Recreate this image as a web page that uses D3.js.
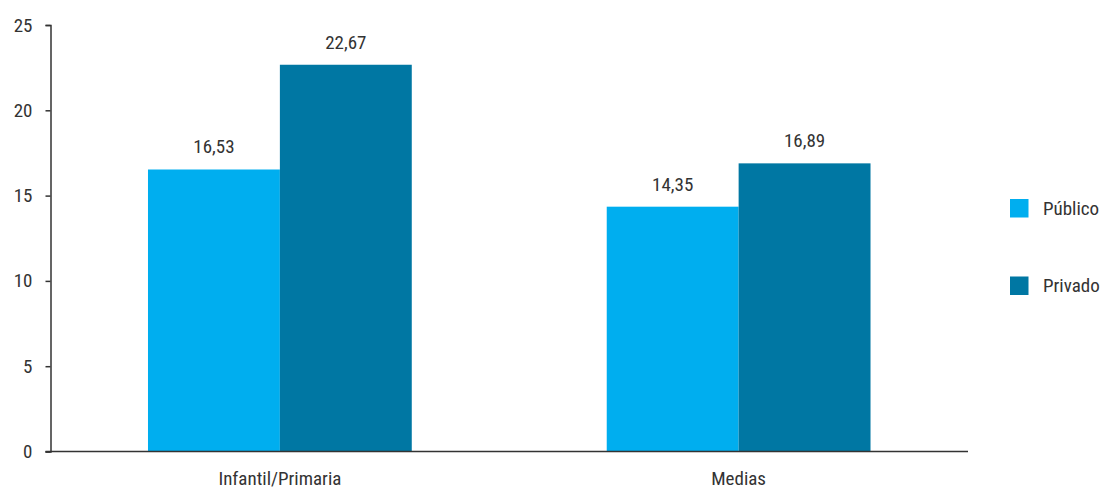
<!DOCTYPE html>
<html>
<head>
<meta charset="utf-8">
<script src="https://cdn.jsdelivr.net/npm/d3@7"></script>
<style>
  html, body { margin: 0; padding: 0; background: #fff; }
  svg { display: block; }
  text { font-family: "Liberation Sans Narrow", "Arial Narrow", "Roboto Condensed", "Liberation Sans", sans-serif; fill: #333; }
</style>
</head>
<body>
<svg id="chart" width="1104" height="489"></svg>
<script>
const categories = ["Infantil/Primaria", "Medias"];
const seriesNames = ["Público", "Privado"];
const publico = [16.53, 14.35];
const privado = [22.67, 16.89];
const publicoLabels = ["16,53", "14,35"];
const privadoLabels = ["22,67", "16,89"];
const yTicks = [0, 5, 10, 15, 20, 25];
const colors = ["#00AEEF", "#0077A3"];

const seriesValues = { "Público": publico, "Privado": privado };
const valueLabels = { "Público": publicoLabels, "Privado": privadoLabels };

const svg = d3.select("#chart");
const mLeft = 50.5, mRight = 968, mTop = 25, mBottom = 451.5;

const x = d3.scaleBand().domain(categories).range([mLeft, mRight])
  .paddingInner(0.425).paddingOuter(0.2125);
const xs = d3.scaleBand().domain(seriesNames).range([0, x.bandwidth()]).padding(0);
const y = d3.scaleLinear().domain([0, 25]).range([mBottom, mTop]);
const color = d3.scaleOrdinal().domain(seriesNames).range(colors);

const rows = (c, i) => seriesNames.map(s => ({ s, v: seriesValues[s][i], label: valueLabels[s][i] }));

// bars
const groups = svg.append("g").selectAll("g").data(categories).join("g")
  .attr("transform", d => `translate(${x(d)},0)`);
groups.selectAll("rect").data(rows).join("rect")
  .attr("x", d => xs(d.s))
  .attr("width", xs.bandwidth())
  .attr("y", d => y(d.v))
  .attr("height", d => mBottom - y(d.v))
  .attr("fill", d => color(d.s));
groups.selectAll("text.val").data(rows).join("text")
  .attr("class", "val")
  .attr("x", d => xs(d.s) + xs.bandwidth() / 2)
  .attr("y", d => y(d.v) - 16)
  .attr("text-anchor", "middle")
  .style("font-size", "19px")
  .text(d => d.label);

// y axis
const yAxis = svg.append("g").attr("transform", `translate(${mLeft},0)`)
  .call(d3.axisLeft(y).tickValues(yTicks).tickSize(5).tickPadding(13).tickFormat(d3.format("d")));
yAxis.select(".domain").attr("stroke", "#333").attr("stroke-width", 1.5);
yAxis.selectAll(".tick line").attr("stroke", "#333").attr("stroke-width", 1.5);
yAxis.selectAll(".tick text").style("font-size", "19px").attr("fill", "#333");

// x axis
const xAxis = svg.append("g").attr("transform", `translate(0,${mBottom})`)
  .call(d3.axisBottom(x).tickSize(0).tickPadding(20));
xAxis.select(".domain").attr("d", `M${mLeft - 5},0H${mRight}`).attr("stroke", "#333").attr("stroke-width", 1.5);
xAxis.selectAll(".tick text").style("font-size", "19px").attr("fill", "#333");

// legend
const legend = svg.append("g").selectAll("g").data(seriesNames).join("g")
  .attr("transform", (d, i) => `translate(1010,${199 + i * 77.5})`);
legend.append("rect").attr("width", 18.5).attr("height", 18.5).attr("fill", d => color(d));
legend.append("text").attr("x", 33).attr("y", 15.5).style("font-size", "19px").text(d => d);
</script>
</body>
</html>
